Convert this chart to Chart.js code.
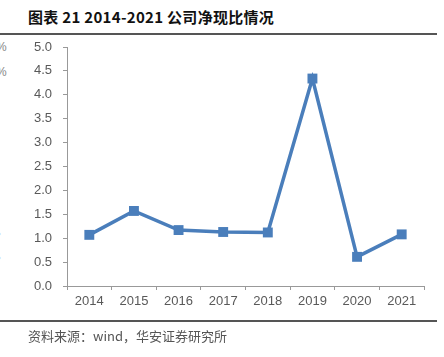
<!DOCTYPE html>
<html><head><meta charset="utf-8">
<script src="https://cdn.jsdelivr.net/npm/chart.js@4/dist/chart.umd.min.js"></script>
<style>
html,body{margin:0;padding:0;background:#fff;width:444px;height:357px;overflow:hidden;position:relative;font-family:"Noto Sans CJK SC",sans-serif;}
#title{position:absolute;left:28px;top:6px;font-size:15px;font-weight:bold;color:#111;white-space:nowrap;letter-spacing:0.3px;}
#tline{position:absolute;left:0;top:33px;width:437px;height:2px;background:#555;}
#bline{position:absolute;left:0;top:320px;width:437px;height:2px;background:#555;}
#src{position:absolute;left:28px;top:326px;font-size:13px;color:#555;white-space:nowrap;}
.frag{position:absolute;left:-4px;font-size:12px;color:#888;font-family:"Liberation Sans",sans-serif;}
#wrap{position:absolute;left:0;top:0;width:444px;height:357px;}
</style></head><body>
<div id="title">图表 21 2014-2021 公司净现比情况</div>
<div id="tline"></div>
<span class="frag" style="top:40px">%</span>
<span class="frag" style="top:65px">%</span>
<span class="frag" style="top:230px">°</span>
<span class="frag" style="top:254px">°</span>
<div id="wrap"><canvas id="c" width="444" height="357" style="width:444px;height:357px"></canvas></div>
<div id="bline"></div>
<div id="src">资料来源：wind，华安证券研究所</div>
<script>
const categories = ["2014","2015","2016","2017","2018","2019","2020","2021"];
const netCashRatio = [1.07, 1.57, 1.17, 1.13, 1.12, 4.34, 0.61, 1.08];
const yTicks = [0,0.5,1,1.5,2,2.5,3,3.5,4,4.5,5];

new Chart(document.getElementById('c'), {
  type: 'line',
  data: {
    labels: categories,
    datasets: [{
      data: netCashRatio,
      borderColor: '#4A7EBB',
      backgroundColor: '#4A7EBB',
      borderWidth: 3.5,
      pointStyle: 'rect',
      pointRadius: 7,
      pointBorderWidth: 0,
      pointBackgroundColor: '#4A7EBB',
      tension: 0
    }]
  },
  options: {
    responsive: false,
    animation: false,
    devicePixelRatio: 1,
    layout: { padding: { top: 47, right: 20, left: 0, bottom: 0 } },
    plugins: { legend: { display: false }, tooltip: { enabled: false } },
    scales: {
      x: {
        offset: true,
        grid: { drawOnChartArea: false, tickLength: 4, color: '#999', offset: true },
        border: { color: '#999', width: 1 },
        ticks: { color: '#595959', font: { family: 'Liberation Sans', size: 13 }, padding: 4, maxRotation: 0, autoSkip: false },
        afterFit: s => { s.height = 71; }
      },
      y: {
        min: 0, max: 5,
        afterBuildTicks: s => { s.ticks = yTicks.map(v => ({ value: v })); },
        grid: { drawOnChartArea: false, tickLength: 4, color: '#999' },
        border: { color: '#999', width: 1 },
        ticks: { color: '#595959', font: { family: 'Liberation Sans', size: 13 }, padding: 11,
          callback: v => Number(v).toFixed(1) },
        afterFit: s => { s.width = 67; }
      }
    }
  }
});
</script>
</body></html>
